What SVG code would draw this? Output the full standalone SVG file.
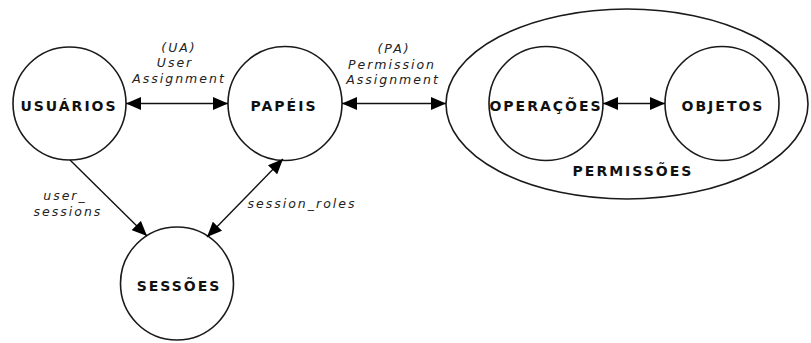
<svg xmlns="http://www.w3.org/2000/svg" width="811" height="343" viewBox="0 0 811 343">
<style>
.node{fill:#fff;stroke:#1a1a1a;stroke-width:1.6}
.nl{font-family:"DejaVu Sans",sans-serif;font-weight:bold;font-size:14px;letter-spacing:2px;text-anchor:middle;fill:#111}
.el{font-family:"DejaVu Sans",sans-serif;font-style:italic;font-size:12.5px;letter-spacing:2px;text-anchor:middle;fill:#222}
.c{stroke:#111;stroke-width:1.4;fill:none}
</style>
<defs>
<marker id="ah" markerUnits="userSpaceOnUse" markerWidth="15" markerHeight="13" refX="15" refY="6.5" orient="auto-start-reverse" viewBox="0 0 15 13">
<path d="M0,0 L15,6.5 L0,13 z" fill="#000"/>
</marker>
</defs>
<rect width="811" height="343" fill="#fff"/>
<g id="permissoes">
<ellipse class="node" cx="627" cy="104" rx="181" ry="95"/>
<text class="nl" x="633" y="176">PERMISSÕES</text>
</g>
<g id="usuarios">
<circle class="node" cx="69.5" cy="103.5" r="56.5"/>
<text class="nl" x="69" y="111">USUÁRIOS</text>
</g>
<g id="papeis">
<circle class="node" cx="285" cy="103.5" r="57"/>
<text class="nl" x="284" y="111">PAPÉIS</text>
</g>
<g id="operacoes">
<circle class="node" cx="546" cy="103.5" r="57"/>
<text class="nl" x="546" y="111">OPERAÇÕES</text>
</g>
<g id="objetos">
<circle class="node" cx="722" cy="103.5" r="57"/>
<text class="nl" x="723" y="111">OBJETOS</text>
</g>
<g id="sessoes">
<circle class="node" cx="177" cy="283.5" r="56.5"/>
<text class="nl" x="179" y="291">SESSÕES</text>
</g>
<g id="connectors">
<line class="c" x1="126" y1="103.5" x2="228" y2="103.5" marker-start="url(#ah)" marker-end="url(#ah)"/>
<line class="c" x1="342" y1="103.5" x2="446" y2="103.5" marker-start="url(#ah)" marker-end="url(#ah)"/>
<line class="c" x1="603" y1="103.5" x2="665" y2="103.5" marker-start="url(#ah)" marker-end="url(#ah)"/>
<line class="c" x1="70" y1="160" x2="147" y2="236" marker-end="url(#ah)"/>
<line class="c" x1="207" y1="237" x2="283" y2="159" marker-start="url(#ah)" marker-end="url(#ah)"/>
<text class="el" x="179" y="52">(UA)</text>
<text class="el" x="175" y="67">User</text>
<text class="el" x="179" y="83">Assignment</text>
<text class="el" x="394" y="53">(PA)</text>
<text class="el" x="392" y="69">Permission</text>
<text class="el" x="393" y="84">Assignment</text>
<text class="el" x="65" y="200">user_</text>
<text class="el" x="68" y="216">sessions</text>
<text class="el" x="302" y="208">session_roles</text>
</g>
</svg>
